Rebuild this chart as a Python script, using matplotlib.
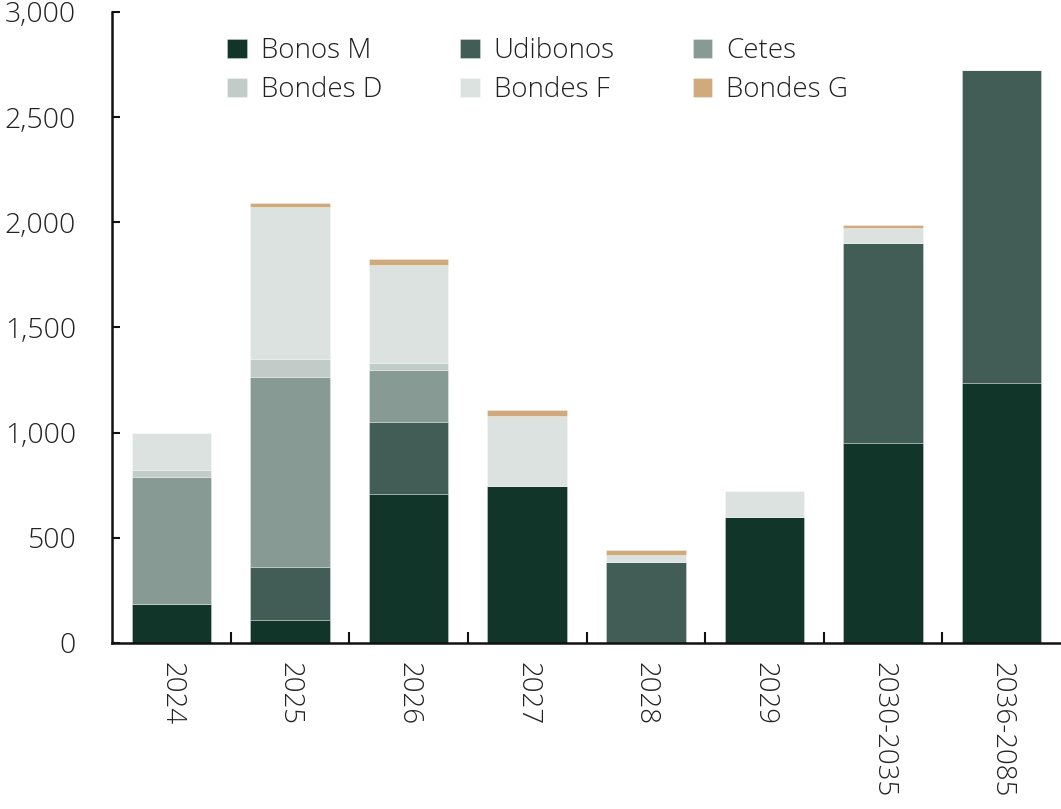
import numpy as np
import matplotlib.pyplot as plt
from matplotlib.ticker import FuncFormatter, FixedLocator

plt.rcParams['font.family'] = ['Open Sans', 'DejaVu Sans']
plt.rcParams['font.weight'] = 'light'

cats = ['2024', '2025', '2026', '2027', '2028', '2029', '2030-2035', '2036-2085']
bonos_m  = [185, 109, 707, 746, 0, 599, 952, 1236]
udibonos = [0, 251, 345, 0, 385, 0, 950, 1487]
cetes    = [604, 905, 248, 0, 0, 0, 0, 0]
bondes_d = [34, 85, 33, 0, 0, 0, 0, 0]
bondes_f = [175, 723, 464, 335, 33, 124, 71, 0]
bondes_g = [0, 19, 30, 27, 26, 0, 16, 0]

names = ['Bonos M', 'Udibonos', 'Cetes', 'Bondes D', 'Bondes F', 'Bondes G']
series = [bonos_m, udibonos, cetes, bondes_d, bondes_f, bondes_g]
colors = ['#12352a', '#425d55', '#879a94', '#c1ccc8', '#dce2df', '#cfaa7c']

fig = plt.figure(figsize=(10.61, 8.09), dpi=100)
ax = fig.add_axes([0.1056, 0.2052, 0.8944, 0.78])

x = np.arange(len(cats))
bottom = np.zeros(len(cats))
handles = []
for name, vals, c in zip(names, series, colors):
    vals = np.array(vals, dtype=float)
    b = ax.bar(x, vals, 0.67, bottom=bottom, color=c, label=name,
               edgecolor=(1, 1, 1, 0.35), linewidth=0.6)
    handles.append(b)
    bottom += vals

ax.set_xlim(-0.5, len(cats) - 0.5)
ax.set_ylim(0, 3000)
ax.set_yticks(np.arange(0, 3001, 500))
ax.yaxis.set_major_formatter(FuncFormatter(lambda v, p: f'{int(v):,}'))

# x ticks sit on the category boundaries, labels in the middle
ax.xaxis.set_major_locator(FixedLocator(np.arange(0.5, len(cats) - 0.5, 1)))
ax.set_xticklabels([])
ax.set_xticks(x, minor=True)
ax.set_xticklabels(cats, minor=True, rotation=-90, va='top', ha='center')
ax.tick_params(axis='x', which='minor', length=0, pad=14, labelsize=20, labelcolor='#222222')
ax.tick_params(axis='x', which='major', direction='in', length=8, width=1.5, color='#111111')
ax.tick_params(axis='y', direction='in', length=6, width=1.5, color='#111111',
               labelsize=20.5, labelcolor='#222222', pad=26)

for s in ['top', 'right']:
    ax.spines[s].set_visible(False)
for s in ['left', 'bottom']:
    ax.spines[s].set_linewidth(1.8)
    ax.spines[s].set_color('#111111')

# legend filled row by row
order = [0, 3, 1, 4, 2, 5]
ax.legend([handles[i] for i in order], [names[i] for i in order],
          ncol=3, loc='upper left', bbox_to_anchor=(0.095, 1.0), frameon=False,
          fontsize=20, handlelength=0.7, handleheight=0.7, handletextpad=0.5,
          columnspacing=2.82, labelspacing=0.4, labelcolor='#222222')

fig.savefig('out.png', dpi=100)
